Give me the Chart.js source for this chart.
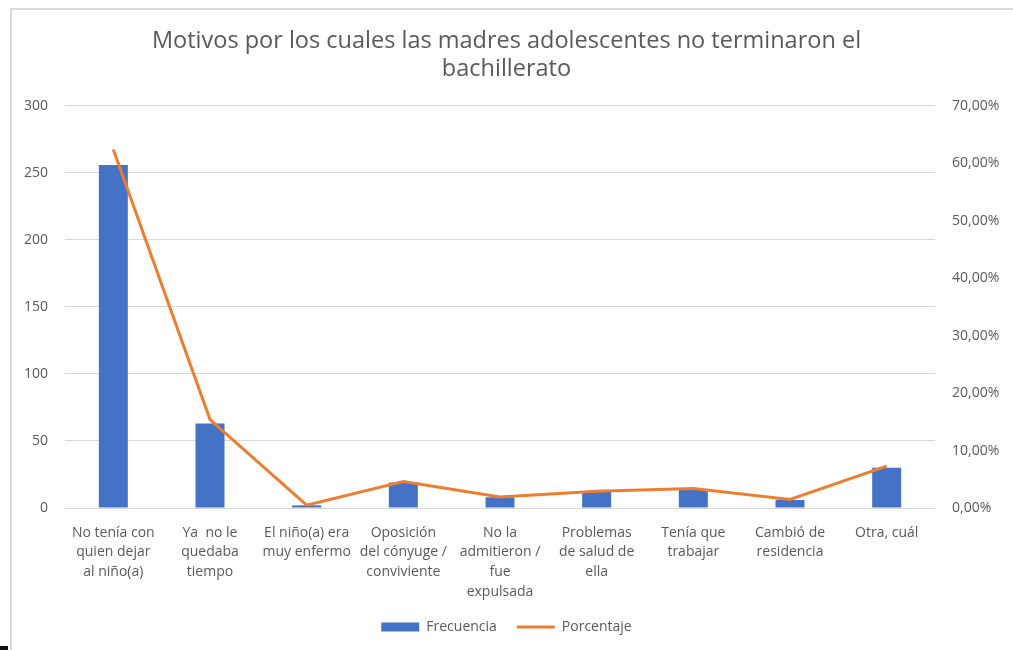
<!DOCTYPE html>
<html>
<head>
<meta charset="utf-8">
<script src="https://cdn.jsdelivr.net/npm/chart.js@4/dist/chart.umd.min.js"></script>
<style>
  html, body { margin: 0; padding: 0; background: #fff; }
  #wrap { position: relative; width: 1013px; height: 650px; overflow: hidden; }
  #frame { position: absolute; left: 10px; top: 8px; width: 1100px; height: 700px;
           border-top: 2px solid #d9d9d9; border-left: 2px solid #d9d9d9; }
  #mark { position: absolute; left: 0; top: 646px; width: 8px; height: 4px; background: #111; }
  canvas { position: absolute; left: 0; top: 0; }
</style>
</head>
<body>
<div id="wrap">
  <div id="frame"></div>
  <div id="mark"></div>
  <canvas id="c" width="1013" height="650"></canvas>
</div>
<script>
const categories = [
  ["No tenía con", "quien dejar", "al niño(a)"],
  ["Ya  no le", "quedaba", "tiempo"],
  ["El niño(a) era", "muy enfermo"],
  ["Oposición", "del cónyuge /", "conviviente"],
  ["No la", "admitieron /", "fue", "expulsada"],
  ["Problemas", "de salud de", "ella"],
  ["Tenía que", "trabajar"],
  ["Cambió de", "residencia"],
  ["Otra, cuál"]
];
const frecuencia = [256, 63, 2, 19, 8, 12, 14, 6, 30];
const porcentaje = [62.4, 15.4, 0.5, 4.6, 1.9, 2.9, 3.4, 1.5, 7.3];
const titleLines = ["Motivos por los cuales las madres adolescentes no terminaron el", "bachillerato"];

const FONT = "'Open Sans', 'Liberation Sans', sans-serif";
const GREY = "#595959";

new Chart(document.getElementById('c'), {
  data: {
    labels: categories,
    datasets: [
      {
        type: 'bar',
        label: 'Frecuencia',
        data: frecuencia,
        backgroundColor: '#4472C4',
        borderWidth: 0,
        yAxisID: 'y',
        categoryPercentage: 1,
        barPercentage: 0.3,
        pointStyle: 'rect',
        order: 1
      },
      {
        type: 'line',
        label: 'Porcentaje',
        data: porcentaje,
        borderColor: '#ED7D31',
        backgroundColor: '#ED7D31',
        borderWidth: 3,
        pointRadius: 0,
        tension: 0,
        yAxisID: 'y1',
        pointStyle: 'line',
        order: -1
      }
    ]
  },
  options: {
    responsive: false,
    animation: false,
    layout: { padding: { top: 0, left: 0, right: 0, bottom: 6 } },
    plugins: {
      tooltip: { enabled: false },
      title: {
        display: true,
        text: titleLines,
        color: GREY,
        font: { family: FONT, size: 23.5, weight: 'normal', lineHeight: 1.19 },
        padding: { top: 27, bottom: 23 }
      },
      legend: {
        position: 'bottom',
        labels: {
          sort: (a, b) => a.datasetIndex - b.datasetIndex,
          usePointStyle: true,
          pointStyleWidth: 38,
          boxHeight: 9,
          color: GREY,
          padding: 20,
          font: { family: FONT, size: 14 }
        }
      }
    },
    scales: {
      x: {
        grid: { display: false, drawTicks: false },
        border: { display: false },
        ticks: {
          color: GREY,
          font: { family: FONT, size: 14, lineHeight: 1.4 },
          padding: 15,
          autoSkip: false,
          maxRotation: 0,
          minRotation: 0
        },
        afterFit: (s) => { s.height = 92; }
      },
      y: {
        position: 'left',
        min: 0, max: 300,
        ticks: { stepSize: 50, color: GREY, font: { family: FONT, size: 14 }, padding: 17 },
        grid: { color: '#d9d9d9', lineWidth: 1, drawTicks: false },
        border: { display: false },
        afterFit: (s) => { s.width = 65; }
      },
      y1: {
        position: 'right',
        min: 0, max: 70,
        ticks: {
          stepSize: 10, color: GREY, font: { family: FONT, size: 14 }, padding: 17,
          callback: (v) => v.toFixed(2).replace('.', ',') + '%'
        },
        grid: { display: false, drawTicks: false },
        border: { display: false },
        afterFit: (s) => { s.width = 78; }
      }
    }
  }
});
</script>
</body>
</html>
